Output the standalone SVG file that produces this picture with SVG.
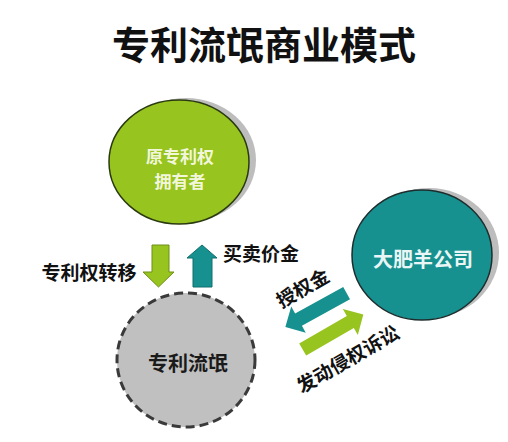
<svg xmlns="http://www.w3.org/2000/svg" width="508" height="442" viewBox="0 0 508 442">
<style>
.t{font-family:"Noto Sans CJK SC","Noto Sans CJK JP",sans-serif;font-weight:bold;text-anchor:middle;dominant-baseline:central}
.lbl{font-size:19px;fill:#111}
.in{font-size:17px}
.big{font-size:20px}
.shadow{fill:#bdbdbd}
.green{fill:#97c41e}
.teal{fill:#16918f}
</style>
<defs>
<path id="arr" d="M-35,-7 L20,-7 L20,-15 L35,0 L20,15 L20,7 L-35,7 Z"/>
</defs>
<rect width="508" height="442" fill="#ffffff"/>
<text class="t" x="264" y="42" font-size="38" fill="#111">专利流氓商业模式</text>

<g id="owner">
<ellipse class="shadow" cx="186" cy="160" rx="70" ry="62"/>
<ellipse class="green" cx="179" cy="162" rx="70" ry="62" stroke="#2a3a10" stroke-width="1.5"/>
<text class="t in" x="180" y="155" fill="#f2f7dc">原专利权</text>
<text class="t in" x="180" y="180" fill="#f2f7dc">拥有者</text>
</g>

<g id="troll">
<ellipse cx="186" cy="360" rx="69" ry="67" fill="#c0c0c0" stroke="#3a3a3a" stroke-width="3" stroke-dasharray="9,5"/>
<text class="t big" x="188" y="362" fill="#1a1a1a">专利流氓</text>
</g>

<g id="company">
<ellipse class="shadow" cx="429" cy="253" rx="70" ry="65"/>
<ellipse class="teal" cx="422" cy="255" rx="70" ry="65" stroke="#1d2d2d" stroke-width="1.5"/>
<text class="t big" x="423" y="258" fill="#eaf6f6">大肥羊公司</text>
</g>

<g id="connectors">
<path class="green" stroke="#6f8f16" stroke-width="1" d="M152,245 L169,245 L169,272 L174,272 L158.5,287 L143,272 L152,272 Z"/>
<path class="teal" stroke="#0f6e6c" stroke-width="1" d="M193,287 L212,287 L212,258 L217,258 L202,245 L187,258 L193,258 Z"/>
<use href="#arr" class="teal" transform="translate(316,310) rotate(151)"/>
<use href="#arr" class="green" transform="translate(333,332) rotate(-30)"/>
<text class="t lbl" x="89" y="271">专利权转移</text>
<text class="t lbl" x="261" y="252">买卖价金</text>
<text class="t lbl" x="302" y="287" transform="rotate(-30 302 287)">授权金</text>
<text class="t lbl" x="347" y="358" transform="rotate(-30 347 358)">发动侵权诉讼</text>
</g>
</svg>
